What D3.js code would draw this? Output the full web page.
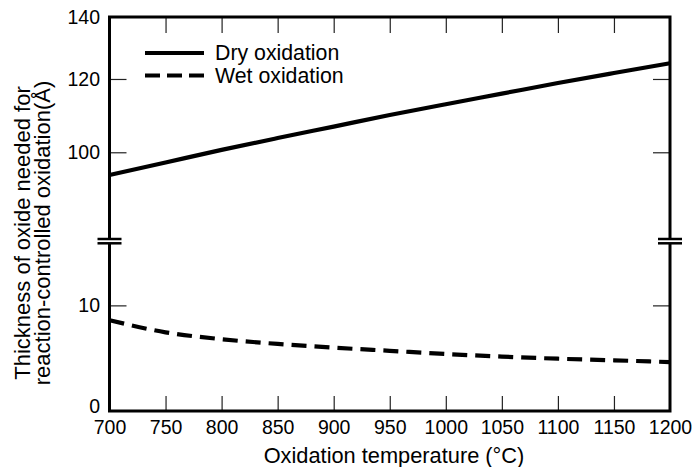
<!DOCTYPE html>
<html>
<head>
<meta charset="utf-8">
<title>Oxide thickness vs temperature</title>
<script src="https://d3js.org/d3.v7.min.js"></script>
<style>
  body { margin: 0; background: #fff; }
  svg { display: block; font-family: "Liberation Sans", Arial, Helvetica, sans-serif; }
  .tick line { stroke: #222; stroke-width: 1.2; }
  .tick text { fill: #000; font-size: 19.5px; }
</style>
</head>
<body>
<svg width="693" height="467"></svg>
<script>
// data
const temps = [700, 750, 800, 850, 900, 950, 1000, 1050, 1100, 1150, 1200];
const dryThickness = [94.5, 97.5, 100.6, 103.6, 106.6, 109.7, 112.7, 115.7, 118.8, 121.8, 124.8];
const wetThickness = [8.6, 7.45, 6.8, 6.35, 6.0, 5.7, 5.4, 5.15, 4.95, 4.8, 4.63];
const xTicks = [700, 750, 800, 850, 900, 950, 1000, 1050, 1100, 1150, 1200];
const upperTicks = [100, 120, 140];
const lowerTicks = [0, 10];
const legendLabels = ["Dry oxidation", "Wet oxidation"];

const svg = d3.select("svg");
const plotL = 109.5, plotR = 670, plotT = 17, plotB = 411;
const breakY = 242;

const x = d3.scaleLinear().domain([700, 1200]).range([plotL, plotR]);
const yTop = d3.scaleLog().domain([80, 140]).range([breakY, plotT]);
const yBot = d3.scaleLinear().domain([0, 16]).range([plotB, breakY]);
const fmt = d3.format("d");

// ticks (pointing inward)
svg.append("g").attr("transform", `translate(0,${plotB})`)
  .call(d3.axisBottom(x).tickValues(xTicks).tickSize(-15).tickPadding(9).tickFormat(fmt))
  .call(g => g.select(".domain").remove())
  .call(g => g.selectAll(".tick").filter(d => d === 700 || d === 1200).select("line").remove());

svg.append("g").attr("transform", `translate(0,${plotT})`)
  .call(d3.axisTop(x).tickValues(xTicks.slice(1, -1)).tickSize(-16).tickFormat(""))
  .call(g => g.select(".domain").remove());

svg.append("g").attr("transform", `translate(${plotL},0)`)
  .call(d3.axisLeft(yTop).tickValues(upperTicks).tickSize(-17).tickPadding(9.5).tickFormat(fmt))
  .call(g => g.select(".domain").remove())
  .call(g => g.selectAll(".tick").filter(d => d === 140).select("line").remove());

svg.append("g").attr("transform", `translate(${plotL},0)`)
  .call(d3.axisLeft(yBot).tickValues(lowerTicks).tickSize(-17).tickPadding(9.5).tickFormat(fmt))
  .call(g => g.select(".domain").remove())
  .call(g => g.selectAll(".tick").filter(d => d === 0).select("line").remove())
  .call(g => g.selectAll(".tick").filter(d => d === 0).select("text").attr("dy", "0.1em"));

svg.append("g").attr("transform", `translate(${plotR},0)`)
  .call(d3.axisRight(yTop).tickValues([100, 120]).tickSize(-17).tickFormat(""))
  .call(g => g.select(".domain").remove());

svg.append("g").attr("transform", `translate(${plotR},0)`)
  .call(d3.axisRight(yBot).tickValues([10]).tickSize(-17).tickFormat(""))
  .call(g => g.select(".domain").remove());

// curves
const dry = temps.map((t, i) => [t, dryThickness[i]]);
const wet = temps.map((t, i) => [t, wetThickness[i]]);

svg.append("path").datum(dry)
  .attr("d", d3.line().x(d => x(d[0])).y(d => yTop(d[1])).curve(d3.curveMonotoneX))
  .attr("fill", "none").attr("stroke", "#000").attr("stroke-width", 4.2);

svg.append("path").datum(wet)
  .attr("d", d3.line().x(d => x(d[0])).y(d => yBot(d[1])).curve(d3.curveMonotoneX))
  .attr("fill", "none").attr("stroke", "#000").attr("stroke-width", 4.2)
  .attr("stroke-dasharray", "15 8");

// frame with axis breaks
const frame = svg.append("g").attr("stroke", "#000").attr("stroke-width", 3).attr("fill", "none");
frame.append("path").attr("d",
  `M${plotL},${breakY - 3}V${plotT}H${plotR}V${breakY - 3}` +
  `M${plotL},${breakY + 1}V${plotB}H${plotR}V${breakY + 1}`);
[plotL, plotR].forEach(px => {
  [breakY - 3, breakY + 1.3].forEach(py => {
    svg.append("line")
      .attr("x1", px - 12).attr("x2", px + 12)
      .attr("y1", py).attr("y2", py)
      .attr("stroke", "#000").attr("stroke-width", 2.5);
  });
});

// legend
const legend = svg.append("g");
legendLabels.forEach((label, i) => {
  const ly = 53 + i * 22.5;
  legend.append("line")
    .attr("x1", 145).attr("x2", 204).attr("y1", ly).attr("y2", ly)
    .attr("stroke", "#000").attr("stroke-width", 4.2)
    .attr("stroke-dasharray", i === 1 ? "15 7" : null);
  legend.append("text")
    .attr("x", 215).attr("y", ly + 7)
    .attr("font-size", 21.3)
    .text(label);
});

// axis titles
svg.append("text")
  .attr("x", 394).attr("y", 463)
  .attr("text-anchor", "middle")
  .attr("font-size", 21.8)
  .text("Oxidation temperature (°C)");

const yTitle = svg.append("text")
  .attr("transform", "translate(0,233) rotate(-90)")
  .attr("text-anchor", "middle")
  .attr("font-size", 22);
yTitle.append("tspan").attr("x", 0).attr("y", 30).text("Thickness of oxide needed for");
yTitle.append("tspan").attr("x", 0).attr("y", 50).text("reaction-controlled oxidation(Å)");
</script>
</body>
</html>
